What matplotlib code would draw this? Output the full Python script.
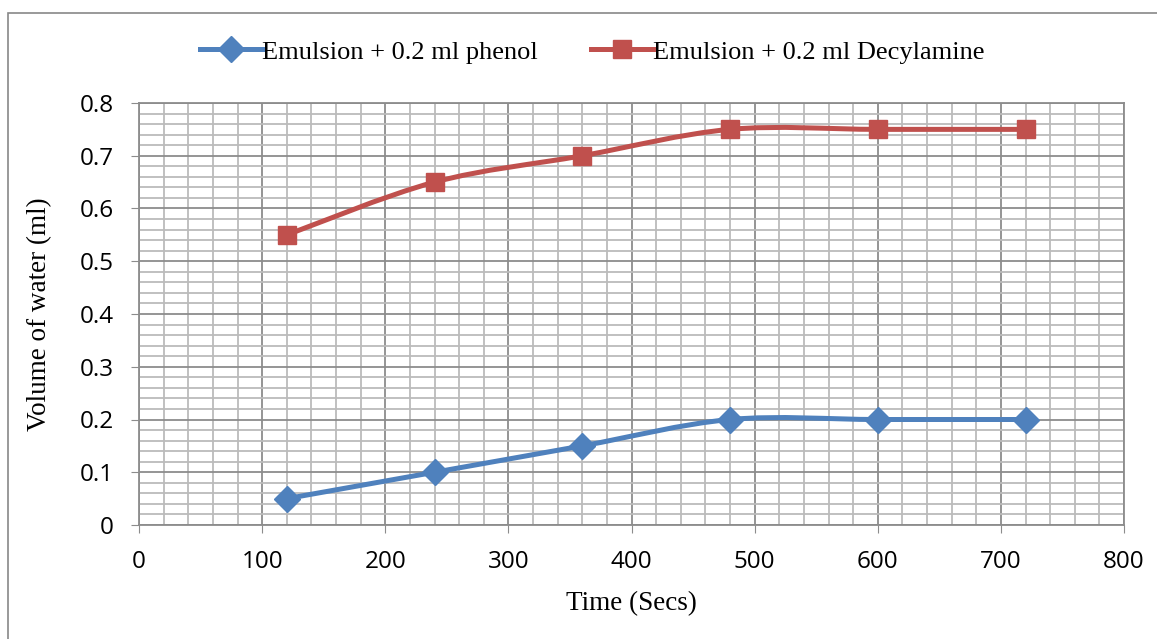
import matplotlib
matplotlib.use('Agg')
import matplotlib.pyplot as plt
import numpy as np
from matplotlib.path import Path
from matplotlib.patches import PathPatch, Rectangle
from matplotlib.ticker import MultipleLocator

# data
time_secs = [120, 240, 360, 480, 600, 720]
phenol = [0.05, 0.10, 0.15, 0.20, 0.20, 0.20]
decylamine = [0.55, 0.65, 0.70, 0.75, 0.75, 0.75]
labels = ['Emulsion + 0.2 ml phenol', 'Emulsion + 0.2 ml Decylamine']

BLUE = '#4F81BD'
RED = '#C0504D'


def smooth_path(x, y):
    # Excel-style smoothed line: cubic bezier through every point
    pts = np.column_stack([x, y]).astype(float)
    verts = [pts[0]]
    codes = [Path.MOVETO]
    n = len(pts)
    for i in range(n - 1):
        p0 = pts[i - 1] if i > 0 else pts[i]
        p1 = pts[i]
        p2 = pts[i + 1]
        p3 = pts[i + 2] if i + 2 < n else pts[i + 1]
        c1 = p1 + (p2 - p0) / 6.0
        c2 = p2 - (p3 - p1) / 6.0
        verts += [c1, c2, p2]
        codes += [Path.CURVE4] * 3
    return Path(verts, codes)


fig = plt.figure(figsize=(11.57, 6.39), dpi=100)
ax = fig.add_axes([139 / 1157, 1 - 525 / 639, 985 / 1157, 422 / 639])

# outer chart border
fig.patches.append(Rectangle((8 / 1157, -0.05), 1.2, 1 - 13 / 639 + 0.05,
                             transform=fig.transFigure, fill=False,
                             edgecolor='#888888', linewidth=1.2))

ax.set_xlim(0, 800)
ax.set_ylim(0, 0.8)
ax.xaxis.set_major_locator(MultipleLocator(100))
ax.xaxis.set_minor_locator(MultipleLocator(20))
ax.yaxis.set_major_locator(MultipleLocator(0.1))
ax.yaxis.set_minor_locator(MultipleLocator(0.02))
ax.grid(which='minor', color='#BBBBBB', linewidth=1.3)
ax.grid(which='major', color='#8C8C8C', linewidth=1.3)
ax.set_axisbelow(True)
for s in ax.spines.values():
    s.set_color('#8C8C8C')
    s.set_linewidth(1.3)

ax.tick_params(which='major', direction='out', length=6, color='#8C8C8C',
               labelsize=17.5)
ax.tick_params(axis='x', pad=12)
ax.tick_params(axis='y', pad=12)
ax.tick_params(which='minor', length=0)
for lab in ax.get_xticklabels() + ax.get_yticklabels():
    lab.set_fontfamily('Open Sans')
ax.yaxis.set_major_formatter(plt.FuncFormatter(lambda v, p: '0' if abs(v) < 1e-9 else f'{v:.1f}'))

for ys, col, mk, ms, lab in [(phenol, BLUE, 'D', 13, labels[0]),
                              (decylamine, RED, 's', 13.5, labels[1])]:
    ax.add_patch(PathPatch(smooth_path(time_secs, ys), fill=False,
                           edgecolor=col, linewidth=3.6, zorder=3,
                           capstyle='round', joinstyle='round'))
    ax.plot(time_secs, ys, linestyle='none', marker=mk, markersize=ms,
            color=col, zorder=4)
    ax.plot([], [], color=col, linewidth=3.6, marker=mk, markersize=ms, label=lab)

ax.set_xlabel('Time (Secs)', fontfamily='Liberation Serif', fontsize=19.5, labelpad=12)
ax.set_ylabel('Volume of water (ml)', fontfamily='Liberation Serif', fontsize=19.5, labelpad=20)

fig.legend(loc='center', bbox_to_anchor=(0.512, 1 - 52 / 639), ncol=2,
           frameon=False, prop={'family': 'Liberation Serif', 'size': 19},
           handlelength=2.35, handletextpad=0.0, columnspacing=2.0,
           markerscale=1.0)

fig.savefig('out.png', dpi=100)
